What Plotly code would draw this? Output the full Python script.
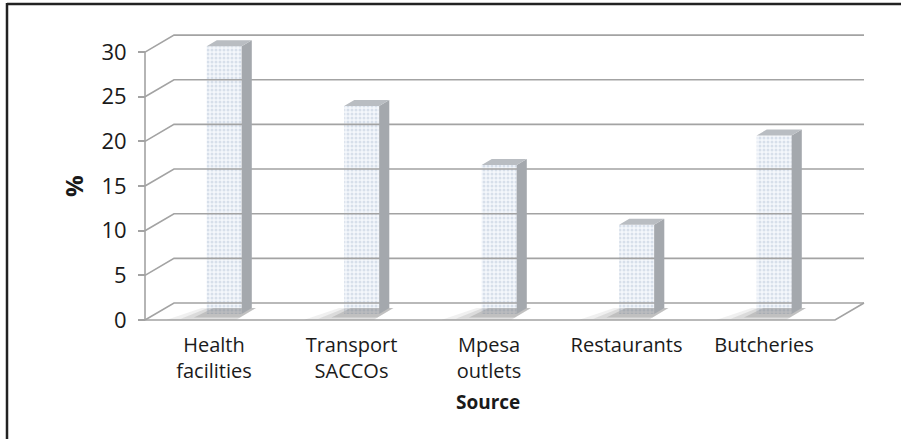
import plotly.graph_objects as go

# Data
categories = ["Health<br>facilities", "Transport<br>SACCOs", "Mpesa<br>outlets", "Restaurants", "Butcheries"]
values = [30.0, 23.3, 16.7, 10.0, 20.0]
y_ticks = [0, 5, 10, 15, 20, 25, 30]

# Pseudo-3D projection: depth d in [0,1] shifts a point right by DX (x units) and up by DY (value units)
PX_PER_X = 137.5
PX_PER_V = 8.93
X0_PX = 214.0      # pixel of category 0 on the front plane
V0_PX = 320.0      # pixel of value 0 on the front plane
DX = 29.0 / PX_PER_X
DY = 17.0 / PX_PER_V
D0, D1 = 0.35, 0.70          # bar front / back depth
HW = 17.5 / PX_PER_X         # bar half width
XL = (145 - X0_PX) / PX_PER_X
XR = (835 - X0_PX) / PX_PER_X
VMAX = max(y_ticks)

# Plot area in pixels
W, H = 901, 439
PL, PR, PT, PB = 130, 880, 20, 330

def px2x(p):
    return (p - X0_PX) / PX_PER_X

def py2v(p):
    return (V0_PX - p) / PX_PER_V

def proj(x, v, d):
    return x + d * DX, v + d * DY

fig = go.Figure()

# Walls and floor: gridlines on the back wall, slanted lines on the side wall
gx, gy = [], []
for t in y_ticks:
    a = proj(XL, t, 0)
    b = proj(XL, t, 1)
    c = proj(XR, t, 1)
    gx += [a[0], b[0], c[0], None]
    gy += [a[1], b[1], c[1], None]
# floor front and right edges
fa = proj(XL, 0, 0)
fb = proj(XR, 0, 0)
fc = proj(XR, 0, 1)
gx += [fa[0], fb[0], fc[0], None]
gy += [fa[1], fb[1], fc[1], None]
# value axis line
gx += [XL, XL]
gy += [0, VMAX]
fig.add_trace(go.Scatter(x=gx, y=gy, mode="lines",
                         line=dict(color="#a3a3a3", width=1.6),
                         hoverinfo="skip", showlegend=False))

# Soft shadows on the floor (layers for a faded edge)
for (ext, dfront, alpha) in [(0.22, 0.02, 0.10), (0.13, 0.08, 0.16), (0.05, 0.15, 0.24)]:
    sx, sy = [], []
    for i, v in enumerate(values):
        p1 = proj(i - HW - ext, 0, dfront)
        p2 = proj(i + HW + 0.03, 0, dfront)
        p3 = proj(i + HW + 0.03, 0, D1)
        p4 = proj(i - HW - ext * 0.5, 0, D1)
        sx += [p1[0], p2[0], p3[0], p4[0], p1[0], None]
        sy += [p1[1], p2[1], p3[1], p4[1], p1[1], None]
    fig.add_trace(go.Scatter(x=sx, y=sy, mode="lines", fill="toself",
                             fillcolor=f"rgba(110,110,110,{alpha})", line=dict(width=0),
                             hoverinfo="skip", showlegend=False))

# Side faces
sdx, sdy = [], []
for i, v in enumerate(values):
    p1 = proj(i + HW, 0, D0)
    p2 = proj(i + HW, 0, D1)
    p3 = proj(i + HW, v, D1)
    p4 = proj(i + HW, v, D0)
    sdx += [p1[0], p2[0], p3[0], p4[0], p1[0], None]
    sdy += [p1[1], p2[1], p3[1], p4[1], p1[1], None]
fig.add_trace(go.Scatter(x=sdx, y=sdy, mode="lines", fill="toself",
                         fillcolor="#a4a8ad", line=dict(width=0),
                         hoverinfo="skip", showlegend=False))

# Top faces
tx, ty = [], []
for i, v in enumerate(values):
    p1 = proj(i - HW, v, D0)
    p2 = proj(i + HW, v, D0)
    p3 = proj(i + HW, v, D1)
    p4 = proj(i - HW, v, D1)
    tx += [p1[0], p2[0], p3[0], p4[0], p1[0], None]
    ty += [p1[1], p2[1], p3[1], p4[1], p1[1], None]
fig.add_trace(go.Scatter(x=tx, y=ty, mode="lines", fill="toself",
                         fillcolor="#b9bdc2", line=dict(width=0),
                         hoverinfo="skip", showlegend=False))

# Front faces (dotted fill)
fig.add_trace(go.Bar(
    x=[i + D0 * DX for i in range(len(values))],
    y=values,
    base=D0 * DY,
    width=2 * HW,
    marker=dict(color="#ffffff",
                line=dict(width=0),
                pattern=dict(shape=".", fgcolor="#b9c7da", bgcolor="#f4f7fb",
                             size=4, solidity=0.45)),
    hoverinfo="skip", showlegend=False))

plot_w = PR - PL
plot_h = PB - PT

fig.update_layout(
    width=W, height=H,
    margin=dict(l=PL, r=W - PR, t=PT, b=H - PB, pad=0),
    paper_bgcolor="white", plot_bgcolor="white",
    font=dict(family="Open Sans, DejaVu Sans, sans-serif", color="#1a1a1a"),
    xaxis=dict(range=[px2x(PL), px2x(PR)], tickvals=list(range(len(categories))),
               ticktext=categories, showgrid=False, zeroline=False, showline=False,
               ticks="", tickfont=dict(size=20), ticklabelstandoff=1),
    yaxis=dict(range=[py2v(PB), py2v(PT)], tickvals=y_ticks, showgrid=False,
               zeroline=False, showline=False, ticks="outside", ticklen=7,
               tickwidth=1.6, tickcolor="#a3a3a3", tickfont=dict(size=22),
               anchor="free", position=(145 - PL) / plot_w, ticklabelstandoff=7),
    annotations=[
        dict(text="<b>%</b>", xref="paper", yref="y", x=(73 - PL) / plot_w, y=15,
             showarrow=False, textangle=-90, font=dict(size=24),
             xanchor="center", yanchor="middle"),
        dict(text="<b>Source</b>", xref="x", yref="paper", x=px2x(488),
             y=(PB - 402) / plot_h, showarrow=False, font=dict(size=19),
             xanchor="center", yanchor="middle"),
    ],
    shapes=[
        # chart frame (left and top edges)
        dict(type="line", xref="paper", yref="paper",
             x0=(7 - PL) / plot_w, x1=(7 - PL) / plot_w,
             y0=(PB - 3) / plot_h, y1=(PB - 445) / plot_h,
             line=dict(color="#222222", width=2.5)),
        dict(type="line", xref="paper", yref="paper",
             x0=(7 - PL) / plot_w, x1=(910 - PL) / plot_w,
             y0=(PB - 4) / plot_h, y1=(PB - 4) / plot_h,
             line=dict(color="#222222", width=2.5)),
    ],
)

fig.write_html("out.html")
